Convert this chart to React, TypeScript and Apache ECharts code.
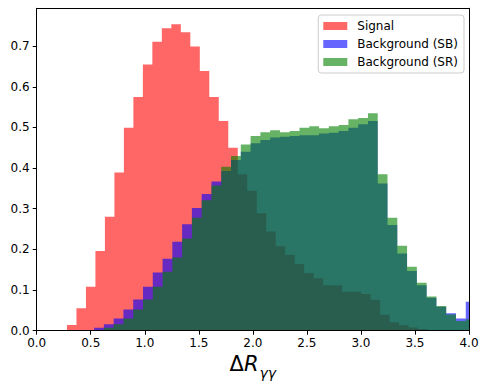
import React, { useEffect, useRef } from "react";
import * as echarts from "echarts";

const seriesNames = ["Signal", "Background (SB)", "Background (SR)"];
const seriesColors = ["rgba(255,0,0,0.6)", "rgba(0,0,255,0.6)", "rgba(0,128,0,0.6)"];

const xTicks = [0, 0.5, 1, 1.5, 2, 2.5, 3, 3.5, 4];
const yTicks = [0, 0.1, 0.2, 0.3, 0.4, 0.5, 0.6, 0.7];

// Signal histogram: bin start / width and heights
const signalBinStart = 0.28;
const signalBinWidth = 0.0878;
const signalValues = [
  0.014, 0.055, 0.108, 0.196, 0.28, 0.389, 0.499, 0.575, 0.655, 0.711,
  0.744, 0.754, 0.734, 0.699, 0.639, 0.575, 0.516, 0.45, 0.385, 0.344,
  0.289, 0.244, 0.208, 0.187, 0.164, 0.142, 0.129, 0.112, 0.112, 0.096,
  0.096, 0.09, 0.076, 0.039, 0.021, 0.014, 0.008, 0.004, 0.002, 0.001,
  0.001, 0.0005, 0.0003,
];

// Background histograms share the same bins
const bgBinStart = 0.35;
const bgBinWidth = 0.0905;
const sbValues = [
  0.001, 0.002, 0.007, 0.016, 0.03, 0.052, 0.077, 0.108, 0.143, 0.177,
  0.219, 0.262, 0.302, 0.336, 0.367, 0.393, 0.42, 0.44, 0.461, 0.469,
  0.475, 0.477, 0.479, 0.481, 0.481, 0.485, 0.487, 0.491, 0.499, 0.508,
  0.516, 0.362, 0.26, 0.19, 0.147, 0.112, 0.081, 0.059, 0.043, 0.03,
  0.071,
];
const srValues = [
  0.0005, 0.001, 0.002, 0.007, 0.016, 0.03, 0.052, 0.077, 0.108, 0.145,
  0.18, 0.227, 0.278, 0.321, 0.357, 0.403, 0.43, 0.458, 0.479, 0.488,
  0.493, 0.488, 0.491, 0.499, 0.503, 0.498, 0.503, 0.506, 0.52, 0.523,
  0.535, 0.385, 0.278, 0.209, 0.157, 0.118, 0.084, 0.061, 0.04, 0.024,
  0.028,
];

function stepPoints(start: number, width: number, values: number[]) {
  const pts = values.map((v, i) => [start + i * width, v]);
  pts.push([start + values.length * width, values[values.length - 1]]);
  return pts;
}

const FONT = "DejaVu Sans";

export default function App() {
  const ref = useRef<HTMLDivElement>(null);
  useEffect(() => {
    if (!ref.current) return;
    const chart = echarts.init(ref.current, undefined, { renderer: "svg" });
    const datasets = [
      stepPoints(signalBinStart, signalBinWidth, signalValues),
      stepPoints(bgBinStart, bgBinWidth, sbValues),
      stepPoints(bgBinStart, bgBinWidth, srValues),
    ];
    const frameLine = { show: true, onZero: false, lineStyle: { color: "#000", width: 1 } };
    chart.setOption({
      animation: false,
      grid: { left: 36.7, right: 19, top: 8.3, bottom: 59.3, containLabel: false },
      legend: {
        orient: "vertical",
        right: 24,
        top: 15,
        icon: "rect",
        itemWidth: 24,
        itemHeight: 8,
        itemGap: 4,
        padding: [4, 6, 4, 5],
        borderColor: "#cccccc",
        borderWidth: 1,
        borderRadius: 3,
        backgroundColor: "rgba(255,255,255,0.8)",
        selectedMode: false,
        textStyle: { fontSize: 12, fontFamily: FONT, color: "#000", lineHeight: 14, padding: [0, 0, 0, 5] },
        data: seriesNames.map((n, i) => ({ name: n, itemStyle: { color: seriesColors[i] } })),
      },
      xAxis: [
        {
          type: "value",
          min: xTicks[0],
          max: xTicks[xTicks.length - 1],
          interval: 0.5,
          z: 10,
          axisLine: frameLine,
          axisTick: { show: true, length: 4, lineStyle: { color: "#000", width: 1 } },
          axisLabel: {
            formatter: (v: number) => v.toFixed(1),
            color: "#000",
            fontSize: 12,
            fontFamily: FONT,
            margin: 6,
          },
          splitLine: { show: false },
          name: "{d|Δ}{r|R}{s|γγ}",
          nameLocation: "middle",
          nameGap: 22,
          nameTextStyle: {
            rich: {
              d: { fontSize: 21, fontFamily: FONT, color: "#000", lineHeight: 22, verticalAlign: "top" },
              r: { fontSize: 21, fontFamily: FONT, fontStyle: "italic", color: "#000", lineHeight: 22, verticalAlign: "top" },
              s: { fontSize: 14, fontFamily: FONT, fontStyle: "italic", color: "#000", lineHeight: 14, padding: [12, 0, 0, 1], verticalAlign: "top" },
            },
          },
        },
        {
          type: "value",
          position: "top",
          min: xTicks[0],
          max: xTicks[xTicks.length - 1],
          z: 10,
          axisLine: frameLine,
          axisTick: { show: false },
          axisLabel: { show: false },
          splitLine: { show: false },
        },
      ],
      yAxis: [
        {
          type: "value",
          min: 0,
          max: 0.793,
          interval: 0.1,
          z: 10,
          axisLine: frameLine,
          axisTick: { show: true, length: 4, customValues: yTicks, lineStyle: { color: "#000", width: 1 } },
          axisLabel: {
            customValues: yTicks,
            formatter: (v: number) => v.toFixed(1),
            color: "#000",
            fontSize: 12,
            fontFamily: FONT,
            margin: 7,
          },
          splitLine: { show: false },
        },
        {
          type: "value",
          position: "right",
          min: 0,
          max: 0.793,
          z: 10,
          axisLine: frameLine,
          axisTick: { show: false },
          axisLabel: { show: false },
          splitLine: { show: false },
        },
      ],
      series: datasets.map((d, i) => ({
        name: seriesNames[i],
        type: "line",
        step: "end",
        data: d,
        xAxisIndex: 0,
        yAxisIndex: 0,
        symbol: "none",
        showSymbol: false,
        clip: true,
        silent: true,
        color: seriesColors[i],
        itemStyle: { color: seriesColors[i] },
        lineStyle: { width: 0, opacity: 0 },
        areaStyle: { color: seriesColors[i], opacity: 1 },
      })),
    });
    return () => chart.dispose();
  }, []);
  return (
    <div
      ref={ref}
      style={{ position: "fixed", left: 0, top: 0, width: 488, height: 390, background: "#fff" }}
    />
  );
}
